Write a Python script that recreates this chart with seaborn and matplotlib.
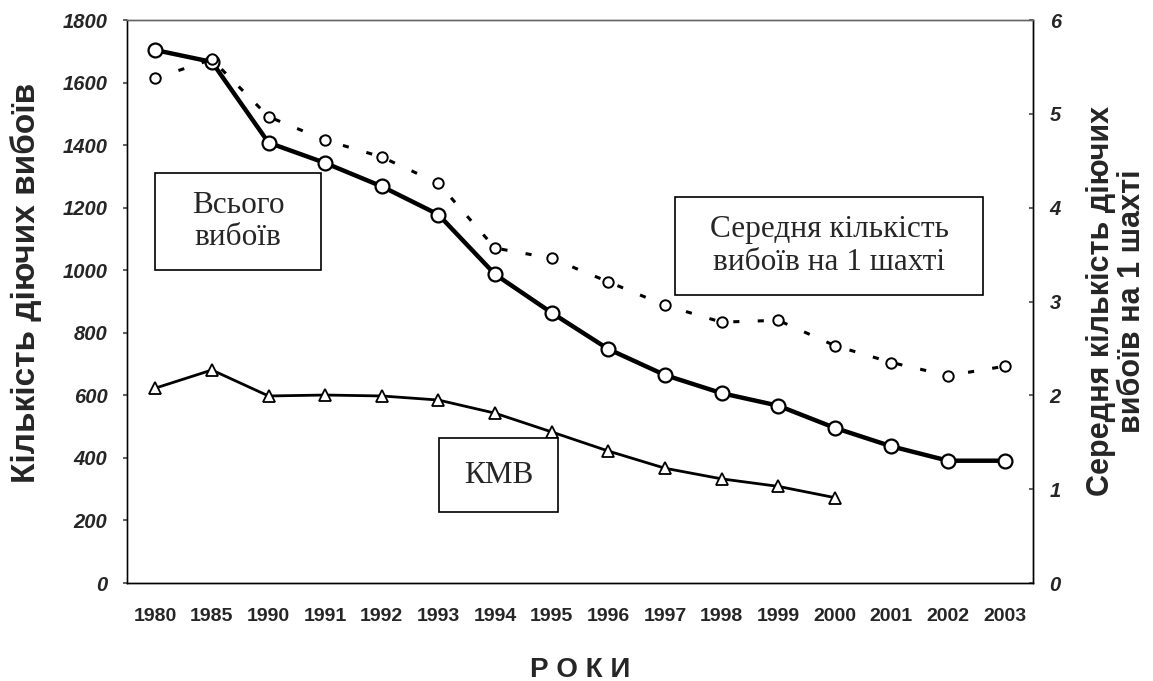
import matplotlib
matplotlib.use("Agg")
import matplotlib.pyplot as plt
import numpy as np
import pandas as pd
import seaborn as sns
from matplotlib.patches import Rectangle

years = ["1980", "1985", "1990", "1991", "1992", "1993", "1994", "1995",
         "1996", "1997", "1998", "1999", "2000", "2001", "2002", "2003"]
total = [1704, 1666, 1408, 1343, 1268, 1178, 987, 864, 748, 665, 607, 567, 496, 437, 391, 391]
avg_per_mine = [5.38, 5.58, 4.97, 4.72, 4.54, 4.26, 3.57, 3.46, 3.21, 2.96, 2.78, 2.80, 2.53, 2.35, 2.21, 2.31]
kmv = [623, 681, 598, 601, 598, 585, 543, 483, 422, 367, 333, 309, 273]

sns.set_theme(style="white")
plt.rcParams["font.family"] = ["Liberation Sans", "DejaVu Sans"]

df = pd.DataFrame({"pos": np.arange(len(years)), "total": total, "avg": avg_per_mine})
df_kmv = pd.DataFrame({"pos": np.arange(len(kmv)), "kmv": kmv})

fig = plt.figure(figsize=(11.53, 6.81), dpi=100)
ax = fig.add_axes([0.1101, 0.1439, 0.7858, 0.8267])
ax2 = ax.twinx()

sns.lineplot(data=df, x="pos", y="total", ax=ax, color="black", lw=3.2,
             marker="o", ms=10, mfc="white", mec="black", mew=1.6, zorder=3)
sns.lineplot(data=df_kmv, x="pos", y="kmv", ax=ax, color="black", lw=2,
             marker="^", ms=8, mfc="white", mec="black", mew=1.3, zorder=3)
sns.lineplot(data=df, x="pos", y="avg", ax=ax2, color="black", lw=2.2,
             linestyle=(0, (2, 6)), marker="o", ms=7.5, mfc="white",
             mec="black", mew=1.4)

ax.set_xlim(-0.5, len(years) - 0.5)
ax.set_ylim(0, 1800)
ax2.set_ylim(0, 6)
ax.set_yticks(np.arange(0, 1801, 200))
ax2.set_yticks(np.arange(0, 7, 1))
ax.set_xticks(np.arange(len(years)))
ax.set_xticklabels(years, fontsize=14, fontweight="bold")
ax.set_xticks(np.arange(len(years) + 1) - 0.5, minor=True)
ax.set_yticklabels([str(v) for v in range(0, 1801, 200)], fontsize=14.5,
                   fontweight="bold", style="italic")
ax2.set_yticklabels([str(v) for v in range(7)], fontsize=14.5,
                    fontweight="bold", style="italic")

ax.tick_params(axis="x", which="major", length=0, pad=18)
ax.tick_params(axis="x", which="minor", length=4, direction="in", color="0.3")
ax.tick_params(axis="y", length=3, direction="out", pad=11, color="0.3")
ax2.tick_params(axis="y", length=3, direction="in", pad=12, color="0.3")

ax.set_xlabel("Р О К И", fontsize=20, fontweight="bold", labelpad=23)
ax.set_ylabel("")
ax2.set_ylabel("")
fig.text(0.023, 0.584, "Кількість діючих вибоїв", rotation=90, fontsize=24,
         fontweight="bold", ha="center", va="center")
fig.text(0.968, 0.558, "Середня кількість діючих\nвибоїв на 1 шахті", rotation=90,
         fontsize=22, fontweight="bold", ha="center", va="center",
         multialignment="center", linespacing=1.05)

for a in (ax, ax2):
    for side, sp in a.spines.items():
        sp.set_visible(True)
        sp.set_color("black")
        sp.set_linewidth(1.0)
ax2.spines["top"].set_color("0.4")
ax.spines["top"].set_color("0.4")
ax.spines["left"].set_color("0.25")

# text boxes
boxes = [
    ((0.0309, 0.556), 0.1832, 0.172, "Всього\nвибоїв"),
    ((0.605, 0.5115), 0.340, 0.1741, "Середня кількість\nвибоїв на 1 шахті"),
    ((0.3444, 0.1261), 0.1313, 0.1314, "КМВ"),
]
for (x0, y0), w, h, label in boxes:
    ax2.add_patch(Rectangle((x0, y0), w, h, transform=ax2.transAxes,
                            facecolor="white", edgecolor="black", lw=1.2, zorder=5))
    ax2.text(x0 + w / 2, y0 + h / 2, label, transform=ax2.transAxes,
             ha="center", va="center", fontsize=22.5, family="Liberation Serif",
             linespacing=1.15, zorder=6)

fig.savefig("out.png", dpi=100)
